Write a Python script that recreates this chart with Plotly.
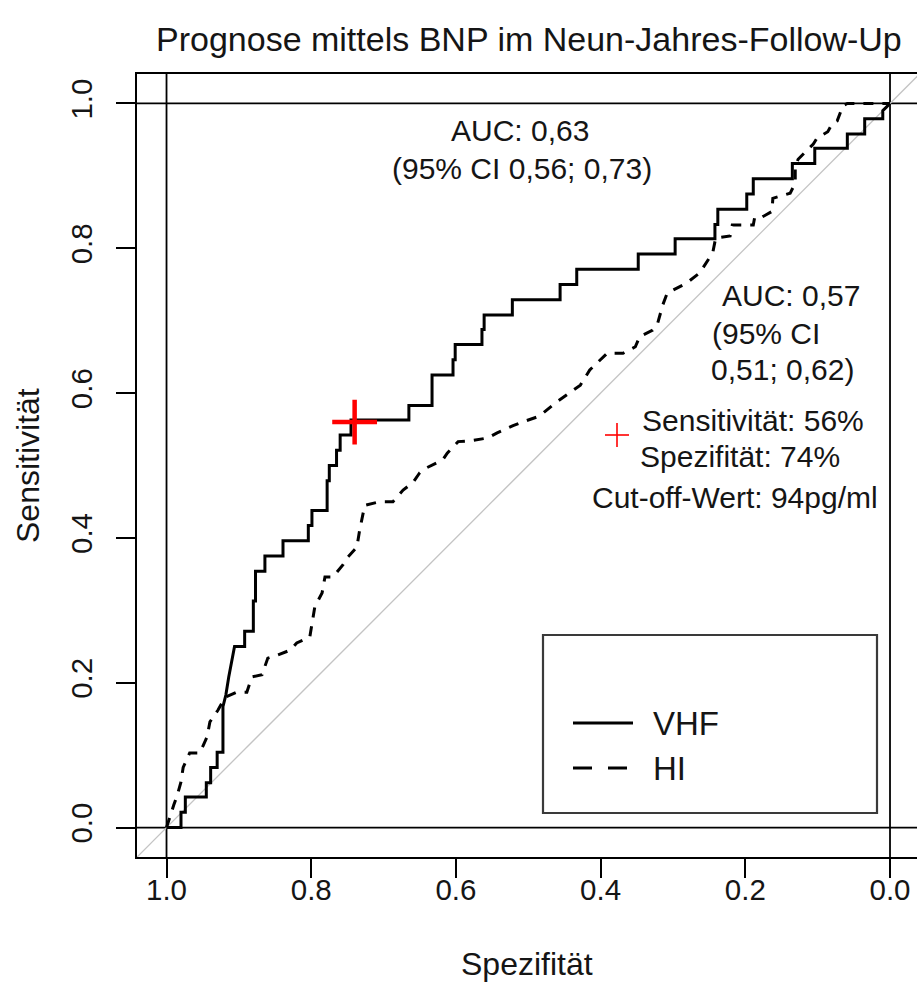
import plotly.graph_objects as go

# ROC coordinates (specificity, sensitivity) for BNP, nine-year follow-up
vhf_spec = [1.000, 0.980, 0.980, 0.974, 0.974, 0.945, 0.945, 0.939, 0.939, 0.930, 0.930,
            0.922, 0.922, 0.918, 0.914, 0.910, 0.906, 0.892, 0.892, 0.880, 0.880, 0.877,
            0.877, 0.864, 0.864, 0.839, 0.839, 0.804, 0.804, 0.799, 0.799, 0.778, 0.778,
            0.775, 0.775, 0.765, 0.765, 0.760, 0.760, 0.745, 0.745, 0.665, 0.665, 0.633,
            0.633, 0.604, 0.604, 0.601, 0.601, 0.564, 0.564, 0.561, 0.561, 0.522, 0.522,
            0.456, 0.456, 0.433, 0.433, 0.348, 0.348, 0.297, 0.297, 0.242, 0.242, 0.238,
            0.238, 0.198, 0.198, 0.189, 0.189, 0.135, 0.135, 0.104, 0.104, 0.059, 0.059,
            0.035, 0.035, 0.010, 0.010, 0.005, 0.000]
vhf_sens = [0.000, 0.000, 0.021, 0.021, 0.042, 0.042, 0.062, 0.062, 0.083, 0.083, 0.104,
            0.104, 0.167, 0.183, 0.208, 0.229, 0.250, 0.250, 0.271, 0.271, 0.313, 0.313,
            0.354, 0.354, 0.375, 0.375, 0.396, 0.396, 0.417, 0.417, 0.438, 0.438, 0.479,
            0.479, 0.500, 0.500, 0.521, 0.521, 0.542, 0.542, 0.563, 0.563, 0.583, 0.583,
            0.625, 0.625, 0.646, 0.646, 0.667, 0.667, 0.688, 0.688, 0.708, 0.708, 0.729,
            0.729, 0.750, 0.750, 0.771, 0.771, 0.792, 0.792, 0.813, 0.813, 0.833, 0.833,
            0.854, 0.854, 0.875, 0.875, 0.896, 0.896, 0.917, 0.917, 0.938, 0.938, 0.958,
            0.958, 0.979, 0.979, 0.990, 0.995, 1.000]

hi_spec = [1.000, 0.995, 0.990, 0.985, 0.980, 0.977, 0.968, 0.954, 0.944, 0.940, 0.929,
           0.919, 0.903, 0.889, 0.882, 0.868, 0.860, 0.847, 0.829, 0.820, 0.802, 0.798,
           0.795, 0.785, 0.781, 0.770, 0.756, 0.749, 0.737, 0.733, 0.728, 0.726, 0.705,
           0.687, 0.673, 0.659, 0.650, 0.640, 0.618, 0.612, 0.597, 0.581, 0.556, 0.543,
           0.521, 0.511, 0.488, 0.480, 0.463, 0.453, 0.438, 0.428, 0.415, 0.405, 0.391,
           0.369, 0.352, 0.346, 0.328, 0.321, 0.314, 0.308, 0.290, 0.281, 0.263, 0.258,
           0.245, 0.241, 0.221, 0.218, 0.189, 0.187, 0.177, 0.163, 0.162, 0.138, 0.131,
           0.131, 0.127, 0.106, 0.101, 0.086, 0.080, 0.073, 0.065, 0.059, 0.000]
hi_sens = [0.000, 0.017, 0.031, 0.045, 0.063, 0.083, 0.103, 0.103, 0.125, 0.146, 0.162,
           0.180, 0.187, 0.187, 0.208, 0.211, 0.234, 0.238, 0.245, 0.255, 0.263, 0.287,
           0.305, 0.324, 0.346, 0.346, 0.363, 0.374, 0.387, 0.411, 0.434, 0.445, 0.450,
           0.450, 0.466, 0.477, 0.490, 0.497, 0.508, 0.517, 0.533, 0.534, 0.538, 0.545,
           0.555, 0.559, 0.567, 0.572, 0.586, 0.593, 0.604, 0.611, 0.632, 0.642, 0.655,
           0.655, 0.664, 0.678, 0.687, 0.697, 0.722, 0.738, 0.747, 0.752, 0.766, 0.774,
           0.794, 0.814, 0.817, 0.832, 0.832, 0.843, 0.843, 0.851, 0.869, 0.876, 0.890,
           0.913, 0.923, 0.944, 0.952, 0.961, 0.972, 0.976, 0.997, 1.000, 1.000]

# Optimal cut-off (VHF): sensitivity 56 %, specificity 74 %
cut_spec = [0.74]
cut_sens = [0.56]

tick_vals = [1.0, 0.8, 0.6, 0.4, 0.2, 0.0]
tick_text = ["1.0", "0.8", "0.6", "0.4", "0.2", "0.0"]

series_names = ["VHF", "HI"]
auc_vhf_lines = ["AUC: 0,63", "(95% CI 0,56; 0,73)"]
auc_hi_lines = ["AUC: 0,57", "(95% CI", "0,51; 0,62)"]
cut_lines = ["Sensitivität: 56%", "Spezifität: 74%", "Cut-off-Wert: 94pg/ml"]

FONT = "Liberation Sans, Arial, Helvetica, sans-serif"
INK = "#151515"

W, H = 917, 984
L, R, T, B = 137, 0, 74, 127
PW, PH = W - L - R, H - T - B


def px(x):
    return (x - L) / PW


def py(y):
    return (H - B - y) / PH


fig = go.Figure()

# chance diagonal
fig.add_trace(go.Scatter(x=[1.2, -0.2], y=[-0.2, 1.2], mode="lines",
                         line=dict(color="#c4c4c4", width=1.3),
                         hoverinfo="skip", showlegend=False))

fig.add_trace(go.Scatter(x=vhf_spec, y=vhf_sens, mode="lines", name=series_names[0],
                         line=dict(color="black", width=3), showlegend=False))
fig.add_trace(go.Scatter(x=hi_spec, y=hi_sens, mode="lines", name=series_names[1],
                         line=dict(color="black", width=3, dash="10px,9px"),
                         showlegend=False))
fig.add_trace(go.Scatter(x=cut_spec, y=cut_sens, mode="markers",
                         marker=dict(symbol="cross-thin", size=32,
                                     line=dict(color="red", width=4.5)),
                         showlegend=False))

shapes = []
# reference lines at sensitivity 0/1 and specificity 1/0
for v in (0.0, 1.0):
    shapes.append(dict(type="line", xref="paper", x0=0, x1=1, yref="y", y0=v, y1=v,
                       line=dict(color="black", width=1.8), layer="below"))
    shapes.append(dict(type="line", yref="paper", y0=0, y1=1, xref="x", x0=v, x1=v,
                       line=dict(color="black", width=1.8), layer="below"))

# legend box
shapes.append(dict(type="rect", xref="paper", yref="paper",
                   x0=px(543), x1=px(877), y0=py(813), y1=py(635),
                   line=dict(color="#3a3a3a", width=2.2), fillcolor="rgba(0,0,0,0)"))
shapes.append(dict(type="line", xref="paper", yref="paper",
                   x0=px(573), x1=px(633), y0=py(723), y1=py(723),
                   line=dict(color="black", width=3)))
shapes.append(dict(type="line", xref="paper", yref="paper",
                   x0=px(573), x1=px(628), y0=py(768), y1=py(768),
                   line=dict(color="black", width=3, dash="19px,16px")))

# small red cross next to the cut-off text
shapes.append(dict(type="line", xref="paper", yref="paper",
                   x0=px(605), x1=px(629), y0=py(435), y1=py(435),
                   line=dict(color="red", width=1.6)))
shapes.append(dict(type="line", xref="paper", yref="paper",
                   x0=px(617), x1=px(617), y0=py(423), y1=py(447),
                   line=dict(color="red", width=1.6)))

annotations = []


def note(text, x, y, size=30, xanchor="center", angle=0):
    annotations.append(dict(text=text, x=px(x), y=py(y), xref="paper", yref="paper",
                            xanchor=xanchor, yanchor="middle", showarrow=False,
                            textangle=angle,
                            font=dict(family=FONT, size=size, color=INK)))


note("Prognose mittels BNP im Neun-Jahres-Follow-Up", 529, 39, size=34)
note(auc_vhf_lines[0], 520, 131)
note(auc_vhf_lines[1], 522, 168)
note(auc_hi_lines[0], 791, 295)
note(auc_hi_lines[1], 710, 333, xanchor="left")
note(auc_hi_lines[2], 782, 369)
note(cut_lines[0], 753, 420)
note(cut_lines[1], 740, 456)
note(cut_lines[2], 735, 497)
note(series_names[0], 651, 723, size=33, xanchor="left")
note(series_names[1], 651, 768, size=33, xanchor="left")
note("Spezifität", 527, 964, size=32)
note("Sensitivität", 28, 466, size=32, angle=-90)

axis_common = dict(
    tickvals=tick_vals, ticktext=tick_text, ticks="outside", ticklen=19,
    tickwidth=1.8, tickcolor="black", showline=True, linecolor="black", linewidth=1.8,
    showgrid=False, zeroline=False,
    tickfont=dict(family=FONT, size=29.5, color=INK),
)

fig.update_layout(
    width=W, height=H,
    margin=dict(l=L, r=R, t=T, b=B),
    paper_bgcolor="white", plot_bgcolor="white",
    showlegend=False,
    xaxis=dict(range=[1.0408, -0.0373], mirror=True, ticklabelstandoff=-13,
               **axis_common),
    yaxis=dict(range=[-0.0407, 1.0407], tickangle=-90, ticklabelstandoff=12,
               **axis_common),
    shapes=shapes,
    annotations=annotations,
)

fig.write_html("out.html")
